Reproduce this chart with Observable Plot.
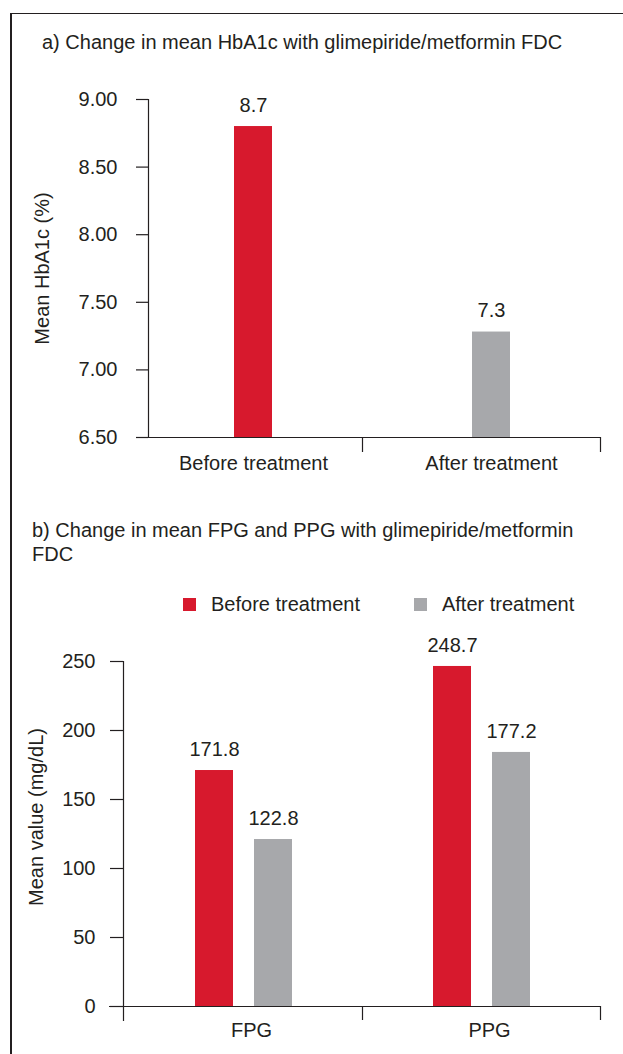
<!DOCTYPE html>
<html>
<head>
<meta charset="utf-8">
<script src="https://cdn.jsdelivr.net/npm/d3@7"></script>
<script src="https://cdn.jsdelivr.net/npm/@observablehq/plot@0.6"></script>
<style>
  html, body { margin: 0; padding: 0; background: #fff; width: 623px; height: 1054px; overflow: hidden; }
  body { position: relative; font-family: "Liberation Sans", Arial, sans-serif; color: #231f20; }
  .frame { position: absolute; left: 10px; top: 13px; width: 700px; height: 1100px; border-top: 1.5px solid #231f20; border-left: 2px solid #231f20; }
  .title { position: absolute; font-size: 20px; line-height: 24px; white-space: nowrap; }
  .abs { position: absolute; left: 0; }
  .legend { position: absolute; top: 592px; left: 183px; display: flex; align-items: center; font-size: 20px; line-height: 24px; white-space: nowrap; }
  .legend .sw { width: 13px; height: 13px; display: inline-block; margin-right: 15px; flex: none; }
  .legend .item { display: flex; align-items: center; margin-right: 54px; flex: none; white-space: nowrap; }
</style>
</head>
<body>
<div class="frame"></div>
<div class="title" id="titleA" style="left:42px; top:30px;"></div>
<div class="abs" id="chartA" style="top:60px;"></div>
<div class="title" id="titleB" style="left:32px; top:518px;"></div>
<div class="legend" id="legendB"></div>
<div class="abs" id="chartB" style="top:620px;"></div>
<script>
// ---- Data ----
const titleA = "a) Change in mean HbA1c with glimepiride/metformin FDC";
const titleB = ["b) Change in mean FPG and PPG with glimepiride/metformin", "FDC"];
const yLabelA = "Mean HbA1c (%)";
const yLabelB = "Mean value (mg/dL)";

const hba1cCategories = ["Before treatment", "After treatment"];
const hba1cValues = [8.8, 7.28];
const hba1cLabels = ["8.7", "7.3"];
const hba1cTicks = [6.5, 7.0, 7.5, 8.0, 8.5, 9.0];

const glucoseCategories = ["FPG", "PPG"];
const seriesNames = ["Before treatment", "After treatment"];
const seriesColors = ["#d7192d", "#a7a8ab"];
const beforeValues = [171, 246.4];
const afterValues = [121, 184.1];
const beforeLabels = ["171.8", "248.7"];
const afterLabels = ["122.8", "177.2"];
const glucoseTicks = [0, 50, 100, 150, 200, 250];

// ---- Common ----
const ink = "#231f20";
const font = "\"Liberation Sans\", Arial, sans-serif";
const style = {fontFamily: font, fontSize: "20px", color: ink, background: "transparent", overflow: "visible"};

document.getElementById("titleA").textContent = titleA;
document.getElementById("titleB").innerHTML = titleB.join("<br>");

// ---- Panel A ----
const hba1cData = hba1cCategories.map((c, i) => ({cat: c, value: hba1cValues[i], label: hba1cLabels[i], color: seriesColors[i]}));
const yMinA = hba1cTicks[0];
const plotA = Plot.plot({
  width: 623,
  height: 420,
  marginLeft: 124,
  marginRight: 23,
  marginTop: 39,
  marginBottom: 43,
  style,
  x: {domain: hba1cCategories, padding: 0},
  y: {domain: [hba1cTicks[0], hba1cTicks[hba1cTicks.length - 1]]},
  marks: [
    Plot.barY(hba1cData, {x: "cat", y1: yMinA, y2: "value", fill: "color", insetLeft: 110, insetRight: 90}),
    Plot.text(hba1cData, {x: "cat", y: "value", text: "label", dx: 10, dy: -21, fill: ink, fontSize: 20}),
    Plot.frame({anchor: "left", dx: 24, stroke: ink, strokeWidth: 1.2}),
    Plot.ruleY([yMinA], {insetLeft: 12, stroke: ink, strokeWidth: 1.2}),
    Plot.ruleX(hba1cCategories, {x: d => d, y1: yMinA, y2: yMinA, dx: 119, insetBottom: -15, stroke: ink, strokeWidth: 1.2}),
    Plot.axisY(hba1cTicks, {anchor: "left", dx: 24, tickSize: 12, tickPadding: 19, tickFormat: d3.format(".2f"), label: null, strokeWidth: 1.2}),
    Plot.axisX({anchor: "bottom", tickSize: 0, tickPadding: 18, dx: 10, label: null}),
    Plot.text([yLabelA], {frameAnchor: "left", rotate: -90, dx: -82, textAnchor: "middle", fill: ink, fontSize: 20})
  ]
});
document.getElementById("chartA").appendChild(plotA);

// ---- Legend B ----
const legend = document.getElementById("legendB");
seriesNames.forEach((s, i) => {
  const item = document.createElement("div");
  item.className = "item";
  const sw = document.createElement("span");
  sw.className = "sw";
  sw.style.background = seriesColors[i];
  const t = document.createElement("span");
  t.textContent = s;
  item.appendChild(sw); item.appendChild(t);
  legend.appendChild(item);
});

// ---- Panel B ----
const beforeData = glucoseCategories.map((c, i) => ({cat: c, value: beforeValues[i], label: beforeLabels[i]}));
const afterData = glucoseCategories.map((c, i) => ({cat: c, value: afterValues[i], label: afterLabels[i]}));
const plotB = Plot.plot({
  width: 623,
  height: 434,
  marginLeft: 123,
  marginRight: 23,
  marginTop: 41,
  marginBottom: 48,
  style,
  x: {domain: glucoseCategories, padding: 0},
  y: {domain: [glucoseTicks[0], glucoseTicks[glucoseTicks.length - 1]]},
  marks: [
    Plot.barY(beforeData, {x: "cat", y: "value", fill: seriesColors[0], insetLeft: 71, insetRight: 129}),
    Plot.barY(afterData, {x: "cat", y: "value", fill: seriesColors[1], insetLeft: 130, insetRight: 70}),
    Plot.text(beforeData, {x: "cat", y: "value", text: "label", dx: -29, dy: -21, fill: ink, fontSize: 20}),
    Plot.text(afterData, {x: "cat", y: "value", text: "label", dx: 30, dy: -21, fill: ink, fontSize: 20}),
    Plot.frame({anchor: "left", insetBottom: -14, stroke: ink, strokeWidth: 1.2}),
    Plot.ruleY([glucoseTicks[0]], {insetLeft: -14, stroke: ink, strokeWidth: 1.2}),
    Plot.ruleX(glucoseCategories, {x: d => d, y1: glucoseTicks[0], y2: glucoseTicks[0], dx: 119, insetBottom: -14, stroke: ink, strokeWidth: 1.2}),
    Plot.axisY(glucoseTicks, {anchor: "left", tickSize: 13, tickPadding: 15, label: null, strokeWidth: 1.2}),
    Plot.axisX({anchor: "bottom", tickSize: 0, tickPadding: 16, dx: 8, label: null}),
    Plot.text([yLabelB], {frameAnchor: "left", rotate: -90, dx: -87, dy: -17, textAnchor: "middle", fill: ink, fontSize: 20})
  ]
});
document.getElementById("chartB").appendChild(plotB);
</script>
</body>
</html>
